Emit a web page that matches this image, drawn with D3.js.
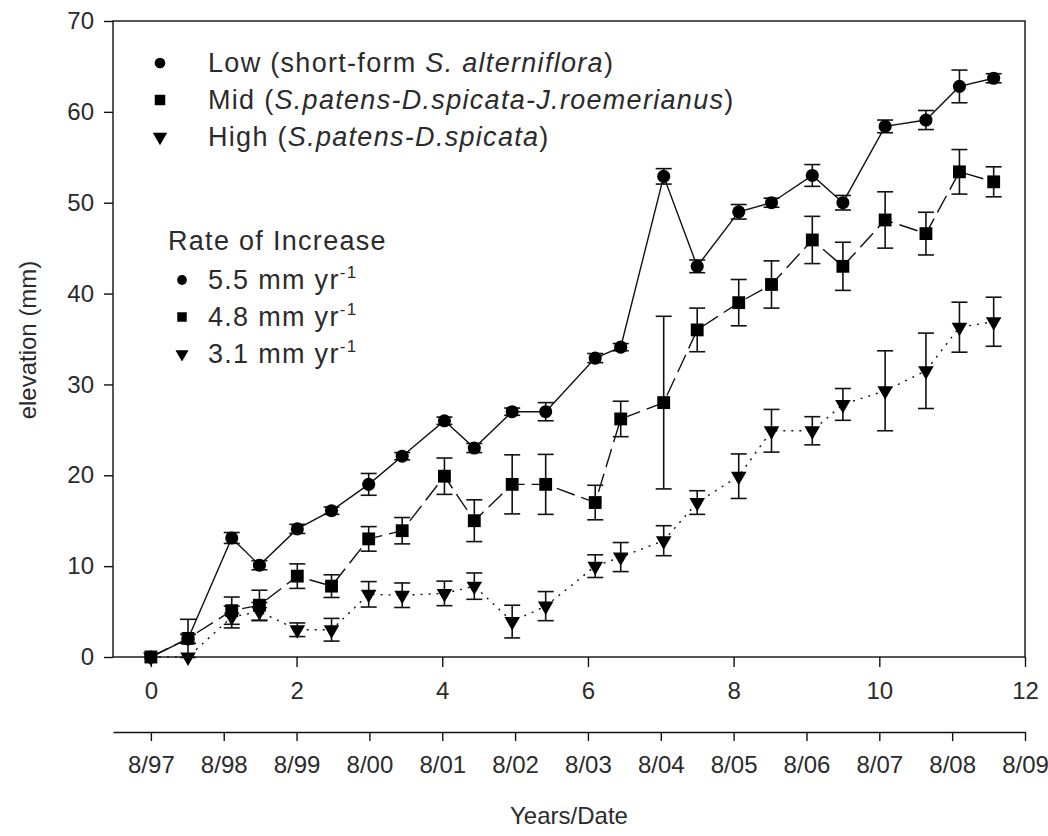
<!DOCTYPE html>
<html>
<head>
<meta charset="utf-8">
<script src="https://cdn.jsdelivr.net/npm/d3@7"></script>
<style>
  body { margin: 0; background: #fff; }
  text { font-family: "Liberation Sans", Arial, sans-serif; fill: #2b2b2b; }
</style>
</head>
<body>
<div id="chart"></div>
<script>
// years since first survey (8/97)
const years = [0, 0.51, 1.11, 1.49, 2.01, 2.48, 2.99, 3.45, 4.03, 4.44, 4.96, 5.42,
               6.1, 6.45, 7.04, 7.5, 8.07, 8.52, 9.08, 9.5, 10.08, 10.64, 11.1, 11.57];

const lowVals = [0, 2, 13.1, 10.1, 14.1, 16.1, 19.0, 22.1, 26.0, 23.0, 27.0, 27.0,
                 32.9, 34.1, 52.9, 43.0, 49.0, 50.0, 53.0, 50.0, 58.4, 59.1, 62.8, 63.7];
const lowErr = [0, 0.5, 0.6, 0.5, 0.5, 0.4, 1.2, 0.4, 0.4, 0.5, 0.4, 1.0,
                0.5, 0.4, 0.85, 0.7, 0.8, 0.5, 1.2, 0.8, 0.7, 1.05, 1.8, 0.5];

const midVals = [0, 2.05, 5.1, 5.7, 8.9, 7.8, 13.0, 13.9, 19.9, 15.0, 19.0, 19.0,
                 17.0, 26.2, 28.0, 36.0, 39.0, 41.0, 45.9, 43.0, 48.1, 46.6, 53.4, 52.3];
const midErr = [0, 2.1, 1.5, 1.65, 1.35, 1.25, 1.35, 1.45, 2.0, 2.3, 3.25, 3.3,
                1.9, 1.95, 9.5, 2.4, 2.55, 2.6, 2.6, 2.65, 3.1, 2.35, 2.45, 1.65];

const highVals = [0, 0, 4.4, 5.0, 3.0, 3.0, 6.9, 6.8, 7.0, 7.8, 3.9, 5.6,
                  10.0, 11.0, 12.8, 17.0, 19.9, 24.9, 24.9, 27.8, 29.3, 31.5, 36.3, 36.9];
const highErr = [0, 0, 1.2, 1.0, 0.75, 1.25, 1.4, 1.35, 1.35, 1.45, 1.8, 1.6,
                 1.25, 1.6, 1.65, 1.3, 2.45, 2.35, 1.55, 1.75, 4.4, 4.15, 2.75, 2.7];

const yTicks = [0, 10, 20, 30, 40, 50, 60, 70];
const xTicks = [0, 2, 4, 6, 8, 10, 12];
const dateLabels = ["8/97", "8/98", "8/99", "8/00", "8/01", "8/02", "8/03",
                    "8/04", "8/05", "8/06", "8/07", "8/08", "8/09"];

const seriesNames = ["Low", "Mid", "High"];
const rateLabels = ["5.5", "4.8", "3.1"];

const margin = {top: 21, left: 113};
const width = 912, height = 636;

const svg = d3.select("#chart").append("svg")
    .attr("width", 1048).attr("height", 836);
const g = svg.append("g").attr("transform", `translate(${margin.left},${margin.top})`);

const x = d3.scaleLinear().domain([-0.52, 12]).range([0, width]);
const y = d3.scaleLinear().domain([0, 70]).range([height, 0]);

//marker shapes
const shapes = {
    Low: d3.symbol().type(d3.symbolCircle).size(135),
    Mid: d3.symbol().type(d3.symbolSquare).size(165),
    High: d3.symbol().type(d3.symbolTriangle).size(105)
};
const dash = {Low: null, Mid: "19,7", High: "2,6"};

function styleAxis(sel, fontSize) {
    sel.selectAll("text").style("font-size", fontSize + "px").attr("fill", "#2b2b2b");
    sel.selectAll("line, path").attr("stroke", "#111").attr("stroke-width", 1.4);
}

//axes
const yAxis = g.append("g")
    .call(d3.axisLeft(y).tickValues(yTicks).tickSize(9).tickPadding(10).tickSizeOuter(0));
yAxis.select(".domain").remove();
styleAxis(yAxis, 24);

const xAxis = g.append("g")
    .attr("transform", `translate(0,${height})`)
    .call(d3.axisBottom(x).tickValues(xTicks).tickSize(10).tickPadding(15).tickSizeOuter(0));
xAxis.select(".domain").remove();
styleAxis(xAxis, 24);

const dateAxis = g.append("g")
    .attr("transform", `translate(0,${height + 75})`)
    .call(d3.axisBottom(x).tickValues(d3.range(13)).tickFormat(i => dateLabels[i])
        .tickSize(9).tickPadding(15).tickSizeOuter(0));
styleAxis(dateAxis, 24);

//frame
g.append("rect")
    .attr("width", width).attr("height", height)
    .attr("fill", "none").attr("stroke", "#111").attr("stroke-width", 1.4);

//axis titles
svg.append("text")
    .attr("transform", "translate(36,340) rotate(-90)")
    .attr("text-anchor", "middle").style("font-size", "24px")
    .text("elevation (mm)");
svg.append("text")
    .attr("x", margin.left + width / 2).attr("y", 824)
    .attr("text-anchor", "middle").style("font-size", "24px")
    .text("Years/Date");

//series
function drawSeries(name, vals, errs) {
    const pts = years.map((t, i) => ({t: t, v: vals[i], e: errs[i]}));
    const line = d3.line().x(d => x(d.t)).y(d => y(d.v));
    g.append("path").datum(pts)
        .attr("d", line)
        .attr("fill", "none").attr("stroke", "#111").attr("stroke-width", 1.4)
        .attr("stroke-dasharray", dash[name]);

    const bars = g.append("g").attr("stroke", "#111").attr("stroke-width", 1.6);
    const withErr = pts.filter(d => d.e > 0);
    bars.selectAll("line.v").data(withErr).enter().append("line")
        .attr("x1", d => x(d.t)).attr("x2", d => x(d.t))
        .attr("y1", d => y(d.v - d.e)).attr("y2", d => y(d.v + d.e));
    [1, -1].forEach(s => {
        bars.selectAll(null).data(withErr).enter().append("line")
            .attr("x1", d => x(d.t) - 8).attr("x2", d => x(d.t) + 8)
            .attr("y1", d => y(d.v + s * d.e)).attr("y2", d => y(d.v + s * d.e));
    });

    g.append("g").selectAll("path").data(pts).enter().append("path")
        .attr("d", shapes[name])
        .attr("fill", "#000")
        .attr("transform", d => `translate(${x(d.t)},${y(d.v)})` + (name === "High" ? " rotate(180)" : ""));
}
drawSeries("High", highVals, highErr);
drawSeries("Mid", midVals, midErr);
drawSeries("Low", lowVals, lowErr);

//legend
const legendText = [
    ["Low (short-form ", "S. alterniflora", ")"],
    ["Mid (", "S.patens-D.spicata-J.roemerianus", ")"],
    ["High (", "S.patens-D.spicata", ")"]
];
const legend = svg.append("g");
seriesNames.forEach((name, i) => {
    const base = 72 + i * 37;
    legend.append("path")
        .attr("d", d3.symbol().type(name === "Low" ? d3.symbolCircle : name === "Mid" ? d3.symbolSquare : d3.symbolTriangle)
            .size(name === "Mid" ? 110 : 90))
        .attr("transform", `translate(160,${base - 9})` + (name === "High" ? " rotate(180)" : ""))
        .attr("fill", "#000");
    const t = legend.append("text").attr("x", 208).attr("y", base)
        .style("font-size", "27px").style("letter-spacing", "1.3px");
    t.append("tspan").text(legendText[i][0]);
    t.append("tspan").style("font-style", "italic").text(legendText[i][1]);
    t.append("tspan").text(legendText[i][2]);
});

legend.append("text").attr("x", 168).attr("y", 250)
    .style("font-size", "27px").style("letter-spacing", "1.3px")
    .text("Rate of Increase");
seriesNames.forEach((name, i) => {
    const base = 289 + i * 37;
    legend.append("path")
        .attr("d", d3.symbol().type(name === "Low" ? d3.symbolCircle : name === "Mid" ? d3.symbolSquare : d3.symbolTriangle)
            .size(name === "Mid" ? 90 : 75))
        .attr("transform", `translate(182,${base - 9})` + (name === "High" ? " rotate(180)" : ""))
        .attr("fill", "#000");
    const t = legend.append("text").attr("x", 208).attr("y", base)
        .style("font-size", "27px").style("letter-spacing", "1.3px");
    t.append("tspan").text(rateLabels[i] + " mm yr");
    t.append("tspan").attr("dy", -11).style("font-size", "17px").text("-1");
});
</script>
</body>
</html>
